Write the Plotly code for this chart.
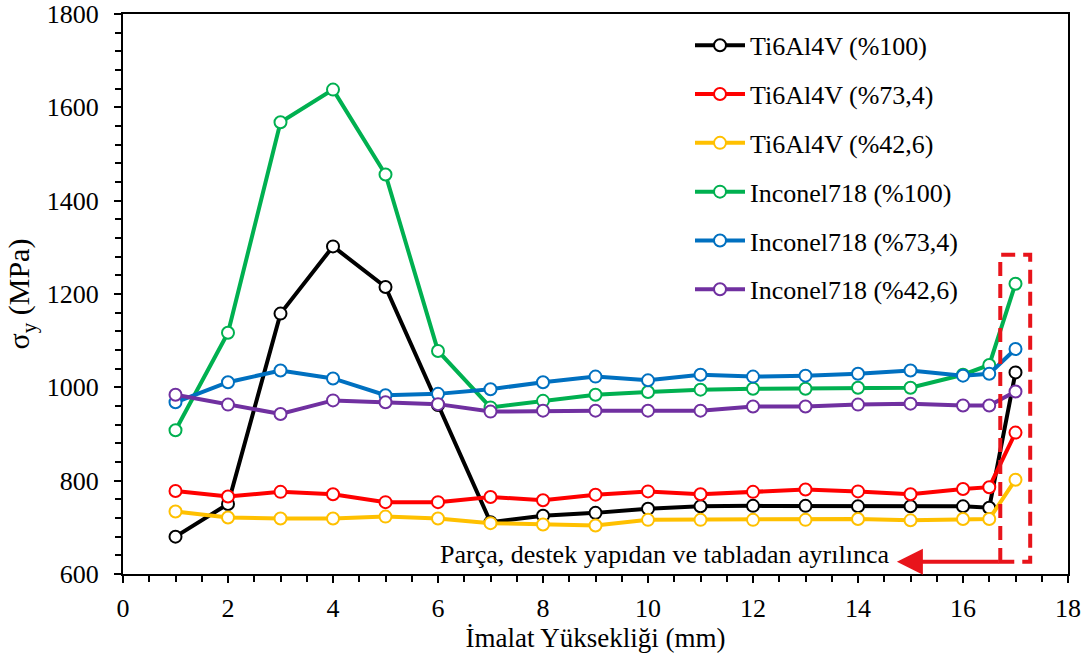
import plotly.graph_objects as go

x_pos = [1, 2, 3, 4, 5, 6, 7, 8, 9, 10, 11, 12, 13, 14, 15, 16, 16.5, 17]

ti_100 = [680, 750, 1158, 1302, 1215, 962, 711, 725, 731, 740, 745, 746, 746, 745, 745, 745, 742, 1032]
ti_734 = [778, 766, 776, 771, 754, 754, 765, 758, 770, 777, 771, 776, 781, 777, 771, 782, 786, 903]
ti_426 = [734, 721, 719, 719, 723, 719, 709, 706, 704, 716, 716, 716, 716, 718, 715, 718, 718, 802]
in_100 = [908, 1117, 1568, 1638, 1456, 1078, 957, 971, 984, 990, 995, 997, 997, 999, 999, 1027, 1048, 1222]
in_734 = [968, 1011, 1036, 1019, 983, 986, 996, 1011, 1023, 1015, 1027, 1023, 1025, 1029, 1036, 1025, 1029, 1082]
in_426 = [984, 963, 943, 972, 968, 964, 948, 950, 950, 950, 950, 959, 959, 963, 965, 961, 961, 991]

series_names = ["Ti6Al4V (%100)", "Ti6Al4V (%73,4)", "Ti6Al4V (%42,6)",
                "Inconel718 (%100)", "Inconel718 (%73,4)", "Inconel718 (%42,6)"]
series_values = [ti_100, ti_734, ti_426, in_100, in_734, in_426]
series_colors = ["#000000", "#FF0000", "#FFC000", "#00B050", "#0070C0", "#7030A0"]

x_ticks = [0, 2, 4, 6, 8, 10, 12, 14, 16, 18]
y_ticks = [600, 800, 1000, 1200, 1400, 1600, 1800]

note_text = "Parça, destek yapıdan ve tabladan ayrılınca"
box_x = [16.71, 17.28]
box_y = [626, 1284]
arrow_tip_x = 14.74
text_right_x = 14.62
text_y = 642

FONT = "Liberation Serif"

fig = go.Figure()
for i, (name, vals, col) in enumerate(zip(series_names, series_values, series_colors)):
    fig.add_trace(go.Scatter(
        x=x_pos, y=vals, name=name, mode="lines+markers",
        legendgroup=f"g{i}",
        line=dict(color=col, width=4),
        marker=dict(symbol="circle", size=12, color="white",
                    line=dict(color=col, width=2)),
    ))

fig.add_shape(type="rect", xref="x", yref="y",
              x0=box_x[0], x1=box_x[1], y0=box_y[0], y1=box_y[1],
              line=dict(color="#E8141B", width=4, dash="14px,8px"))

fig.add_annotation(x=arrow_tip_x, y=box_y[0], ax=box_x[0], ay=box_y[0],
                   xref="x", yref="y", axref="x", ayref="y",
                   text="", showarrow=True, arrowhead=2, arrowsize=1.3,
                   arrowwidth=4, arrowcolor="#E8141B")
fig.add_annotation(x=text_right_x, y=text_y, xref="x", yref="y",
                   text=note_text, showarrow=False, xanchor="right",
                   yanchor="middle", font=dict(family=FONT, size=26, color="black"))

axis_common = dict(
    showline=True, linecolor="black", linewidth=2, mirror=True,
    ticks="outside", tickcolor="black", tickwidth=2, ticklen=7,
    showgrid=False, zeroline=False, automargin=False,
    tickfont=dict(family=FONT, size=26, color="black"),
)

fig.update_xaxes(range=[0, 18], tickvals=x_ticks, ticktext=[str(v) for v in x_ticks],
                 minor=dict(dtick=0.5, ticks="outside", ticklen=6, tickwidth=1.5, tickcolor="black"),
                 title=dict(text="İmalat Yüksekliği (mm)", font=dict(family=FONT, size=27, color="black"),
                            standoff=4),
                 ticklabelstandoff=3,
                 **axis_common)
fig.update_yaxes(range=[600, 1800], tickvals=y_ticks, ticktext=[str(v) for v in y_ticks],
                 minor=dict(dtick=40, tick0=600, ticks="outside", ticklen=6, tickwidth=1.5, tickcolor="black"),
                 title=dict(text="σ<sub>y</sub> (MPa)", font=dict(family=FONT, size=30, color="black"),
                            standoff=8),
                 ticklabelstandoff=10,
                 **axis_common)

fig.update_layout(
    width=1087, height=661,
    margin=dict(l=123, r=19, t=14, b=87),
    plot_bgcolor="white", paper_bgcolor="white",
    showlegend=True,
    legend=dict(x=0.6, y=0.986, xanchor="left", yanchor="top",
                font=dict(family=FONT, size=26, color="black"),
                bgcolor="rgba(255,255,255,0)", tracegroupgap=12,
                itemwidth=50),
)

fig.write_html("out.html")
